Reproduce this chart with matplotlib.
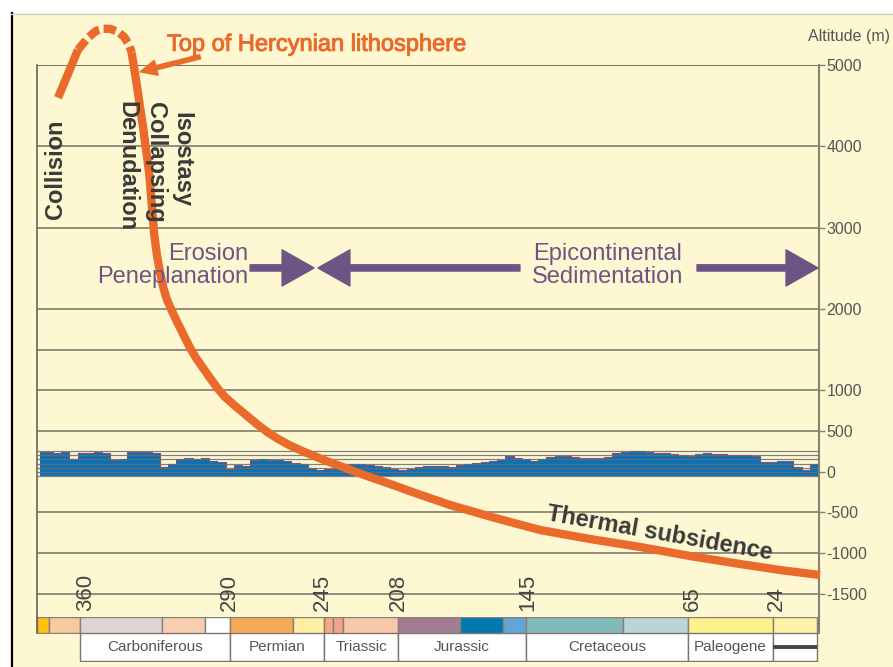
import numpy as np
import matplotlib.pyplot as plt
import matplotlib.patheffects as pe
from matplotlib.patches import Rectangle, FancyArrowPatch
from matplotlib.lines import Line2D

plt.rcParams['font.family'] = ['Liberation Sans', 'DejaVu Sans']
plt.rcParams['axes.unicode_minus'] = False

# ---- values ----
alt_ticks = [5000, 4000, 3000, 2000, 1000, 500, 0, -500, -1000, -1500]
grid_levels = [4000, 3000, 2000, 1500, 1000, 500, -500, -1000, -1500]
band_levels = [250, 200, 150, 100, 50, 0, -50]
age_ticks = [360, 290, 245, 208, 145, 65, 24]

# top of the lithosphere (age in Ma, altitude in m)
rise_age = [373.5, 368.6, 363.8]
rise_alt = [4597, 4892, 5187]
crest_age = [363.8, 358.9, 355.0, 351.6, 348.2, 344.3, 341.4, 339.0, 337.6]
crest_alt = [5187, 5335, 5420, 5445, 5445, 5408, 5347, 5249, 5150]
fall_age = [337.7, 336.8, 335.8, 334.8, 333.9, 332.9, 331.9, 331.0, 330.0, 329.0,
            328.3, 327.5, 326.8, 325.4, 323.9, 322.4, 320.5, 318.1, 315.6, 312.7,
            309.3, 306.4, 303.0, 299.6, 295.7, 292.3, 287.4, 282.1, 276.3, 271.4,
            266.5, 260.7, 254.9, 249.0, 243.7, 236.4, 230.1, 223.3, 212.1, 199.9,
            182.9, 161.0, 139.2, 114.8, 90.5, 66.2, 41.9, 22.5, 3.0]
fall_alt = [5150, 5015, 4855, 4695, 4535, 4363, 4191, 4018, 3834, 3625,
            3403, 3170, 2936, 2665, 2456, 2272, 2112, 1977, 1841, 1694,
            1522, 1398, 1276, 1153, 1017, 919, 808, 697, 574, 482,
            402, 322, 255, 193, 138, 70, 9, -53, -151, -262,
            -410, -569, -717, -828, -926, -1037, -1135, -1209, -1271]

# present-day topography profile, sampled every 4 Ma from 382 to 2 Ma
topo_age = np.arange(382, 1, -4)
topo_alt = [240, 245, 230, 240, 150, 225, 235, 245, 230, 140,
            160, 240, 245, 240, 225, 60, 95, 150, 165, 160,
            165, 130, 120, 30, 80, 75, 140, 150, 145, 140,
            135, 110, 90, 40, 20, 30, 70, 80, 95, 90,
            85, 75, 60, 30, 25, 30, 60, 70, 65, 70,
            60, 85, 100, 110, 115, 130, 140, 190, 165, 160,
            130, 160, 175, 195, 195, 180, 170, 165, 170, 185,
            225, 240, 250, 255, 240, 235, 230, 220, 200, 195,
            215, 225, 220, 215, 200, 205, 200, 195, 115, 120,
            130, 125, 60, 15, 90, 20]
topo_base = -50

# time scale bar
stage_edges = [383.7, 378, 363, 323, 302, 290, 259, 244, 240, 235, 208,
               178, 157, 146, 99, 67, 26, 4.5]
stage_colors = ['#FFC20E', '#F9C9A0', '#DDD5D3', '#F9CDB0', '#FFFFFF', '#F5AA55',
                '#FEEFA5', '#F4A982', '#EFA48F', '#F9C8A8', '#A27D92', '#0078B0',
                '#62A5D6', '#82BABA', '#BAD5D4', '#FEF08A', '#FEF1A8']
period_edges = [363, 290, 244, 208, 146, 67, 26, 4.5]
period_names = ['Carboniferous', 'Permian', 'Triassic', 'Jurassic',
                'Cretaceous', 'Paleogene', '']

cream = '#FDF8D2'
orange = '#EA6A2B'
purple = '#6C5584'
dark = '#3A3A3A'
gridc = '#8A8474'

fig = plt.figure(figsize=(8.93, 6.67), dpi=100, facecolor=cream)
W, H = 893, 667

def fbox(x0, y0, x1, y1):
    return [x0 / W, (H - y1) / H, (x1 - x0) / W, (y1 - y0) / H]

# white frame strips
fig.add_artist(Rectangle((0, (H - 13) / H), 1, 13 / H, transform=fig.transFigure,
                         facecolor='white', edgecolor='none'))
fig.add_artist(Rectangle((0, 0), 10 / W, 1, transform=fig.transFigure,
                         facecolor='white', edgecolor='none'))
fig.add_artist(Line2D([11.5 / W, 11.5 / W], [0, (H - 13) / H], transform=fig.transFigure,
                      color='black', lw=1.6))
fig.add_artist(Line2D([11 / W, 1], [(H - 13.5) / H, (H - 13.5) / H], transform=fig.transFigure,
                      color='#D6D2BC', lw=1))

ax = fig.add_axes(fbox(37, 65, 819, 617))
ax.set_facecolor('none')
ax.set_xlim(383.7, 3.5)
ax.set_ylim(-1787, 5000)

for lev in grid_levels:
    ax.axhline(lev, color=gridc, lw=1.3, zorder=1)
ax.axhline(5000, color='#6A6458', lw=1.3, zorder=1)

# topography band
ax.fill_between(topo_age, topo_base, topo_alt, step='mid', color='#0B71B3', lw=0, zorder=2)
ax.step(topo_age, topo_alt, where='mid', color='#80517F', lw=0.8, zorder=2.1)
for lev in band_levels:
    ax.axhline(lev, color='#6B6A70', lw=0.9, alpha=0.85, zorder=3)

# lithosphere curve
ax.plot(rise_age, rise_alt, color=orange, lw=6, solid_capstyle='butt', clip_on=False, zorder=5)
ax.plot(crest_age, crest_alt, color=orange, lw=6, linestyle=(0, (1.5, 0.55)),
        dash_capstyle='butt', clip_on=False, zorder=5)
ax.plot(fall_age, fall_alt, color=orange, lw=6, solid_capstyle='butt',
        solid_joinstyle='round', clip_on=False, zorder=5)

# annotations
ax.text(320.5, 5248, 'Top of Hercynian lithosphere', color=orange, fontsize=17,
        ha='left', va='center', zorder=6,
        path_effects=[pe.withStroke(linewidth=0.7, foreground=orange)])
ax.add_patch(FancyArrowPatch((304.4, 5101), (333.6, 4916), mutation_scale=10,
                             arrowstyle='simple,head_length=1.2,head_width=1.1,tail_width=0.3',
                             color=orange, shrinkA=0, shrinkB=0, clip_on=False, zorder=6))

ax.text(374.5, 3723, 'Collision', rotation=90, color=dark, fontsize=17,
        fontweight='bold', ha='center', va='center', zorder=6)
ax.text(340.0, 3760, 'Denudation', rotation=-90, color=dark, fontsize=17,
        fontweight='bold', ha='center', va='center', zorder=6)
ax.text(326.3, 3797, 'Collapsing', rotation=-90, color=dark, fontsize=17,
        fontweight='bold', ha='center', va='center', zorder=6)
ax.text(313.2, 3834, 'Isostasy', rotation=-90, color=dark, fontsize=17,
        fontweight='bold', ha='center', va='center', zorder=6)

ax.text(281.1, 2540, 'Erosion\nPeneplanation', color=purple, fontsize=17, ha='right',
        va='center', multialignment='right', linespacing=1.05, zorder=6)
ax.text(106.1, 2540, 'Epicontinental\nSedimentation', color=purple, fontsize=17,
        ha='center', va='center', multialignment='center', linespacing=1.05, zorder=6)

arrow_style = 'simple,head_length=2.3,head_width=2.6,tail_width=0.45'
for a0, a1 in [(280.1, 249.0), (148.9, 247.1), (62.8, 4.0)]:
    ax.add_patch(FancyArrowPatch((a0, 2505), (a1, 2505), mutation_scale=10,
                                 arrowstyle=arrow_style, color=purple,
                                 shrinkA=0, shrinkB=0, zorder=6))

ax.text(80.8, -760, 'Thermal subsidence', rotation=-10, rotation_mode='anchor',
        color=dark, fontsize=17, fontweight='bold', ha='center', va='center', zorder=6)

for a in age_ticks:
    ax.text(a, -1713, str(a), rotation=90, color='#444444', fontsize=16,
            ha='center', va='bottom', zorder=6)

# axes styling
ax.set_xticks([])
ax.yaxis.tick_right()
ax.set_yticks(alt_ticks)
ax.set_yticklabels([str(v) for v in alt_ticks])
ax.tick_params(axis='y', direction='out', length=4, width=1, color='#8A8070',
               labelcolor='#555555', labelsize=11.5, pad=1.5)
for s in ['top', 'bottom']:
    ax.spines[s].set_visible(False)
ax.spines['left'].set_color('#6A6458')
ax.spines['left'].set_linewidth(1.2)
ax.spines['right'].set_color('#8A8070')
ax.spines['right'].set_linewidth(1.5)

fig.text(890 / W, (H - 37) / H, 'Altitude (m)', color='#555555', fontsize=11.5,
         ha='right', va='center')

# stage colour bar
bx = fig.add_axes(fbox(37, 617, 819, 633))
bx.set_facecolor('none')
bx.set_xlim(383.7, 3.5)
bx.set_ylim(0, 1)
for i, c in enumerate(stage_colors):
    bx.broken_barh([(stage_edges[i + 1], stage_edges[i] - stage_edges[i + 1])], (0, 1),
                   facecolors=c, edgecolors='#8A7F75', linewidth=1)
bx.set_xticks([])
bx.set_yticks([])
for s in ['top', 'bottom']:
    bx.spines[s].set_visible(False)
bx.spines['left'].set_color('#6A6458')
bx.spines['left'].set_linewidth(1.2)
bx.spines['right'].set_color('#8A8070')
bx.spines['right'].set_linewidth(1.5)

# period name boxes
px = fig.add_axes(fbox(37, 633, 819, 661))
px.set_facecolor('none')
px.set_xlim(383.7, 3.5)
px.set_ylim(0, 1)
for i, name in enumerate(period_names):
    a0, a1 = period_edges[i], period_edges[i + 1]
    px.broken_barh([(a1, a0 - a1)], (0, 1), facecolors='white',
                   edgecolors='#7A7570', linewidth=1)
    if name:
        px.text((a0 + a1) / 2, 0.5, name, color='#555555', fontsize=11,
                ha='center', va='center')
px.plot([period_edges[-2], period_edges[-1]], [0.5, 0.5], color='#444444', lw=2.8,
        solid_capstyle='butt')
px.set_xticks([])
px.set_yticks([])
for s in px.spines.values():
    s.set_visible(False)

fig.savefig('out.png', dpi=100, facecolor=cream)
